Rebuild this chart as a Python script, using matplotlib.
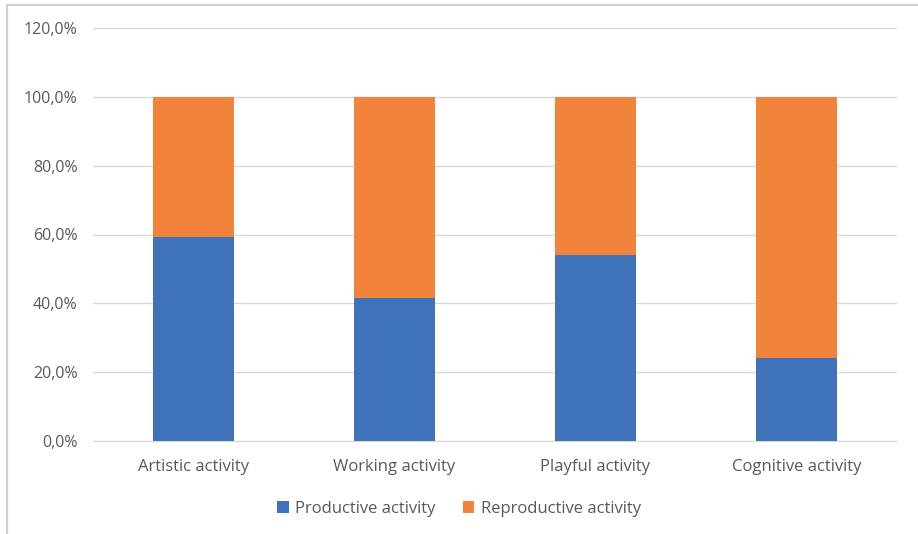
import matplotlib
matplotlib.use("Agg")
import matplotlib.pyplot as plt
from matplotlib.patches import Rectangle
from matplotlib.ticker import FuncFormatter
import numpy as np

categories = ["Artistic activity", "Working activity", "Playful activity", "Cognitive activity"]
productive = [59.3, 41.5, 53.9, 24.2]
reproductive = [100 - v for v in productive]
series_names = ["Productive activity", "Reproductive activity"]
yticks = [0, 20, 40, 60, 80, 100, 120]

plt.rcParams['font.family'] = ['Open Sans', 'DejaVu Sans']
txt = '#595959'

fig = plt.figure(figsize=(9.18, 5.34), dpi=100)
ax = fig.add_axes([93/918, 1-441/534, 804/918, 413/534])

x = np.arange(len(categories))
ax.bar(x, productive, width=0.4, color='#4072b9', label=series_names[0], zorder=3)
ax.bar(x, reproductive, width=0.4, bottom=productive, color='#f2833b', label=series_names[1], zorder=3)

ax.set_xlim(-0.5, len(categories) - 0.5)
ax.set_ylim(0, 120)
ax.set_yticks(yticks)
ax.yaxis.set_major_formatter(FuncFormatter(lambda v, p: f"{v:.1f}%".replace('.', ',')))
ax.set_xticks(x)
ax.set_xticklabels(categories)
ax.tick_params(axis='both', length=0, colors=txt)
ax.tick_params(axis='x', pad=13, labelsize=12)
ax.tick_params(axis='y', pad=11, labelsize=11.5)
ax.grid(axis='y', color='#d9d9d9', linewidth=1, zorder=0)
for s in ['top', 'right', 'left']:
    ax.spines[s].set_visible(False)
ax.spines['bottom'].set_color('#d9d9d9')

leg = fig.legend(loc='center', bbox_to_anchor=(0.5, 1-509/534), ncol=2, frameon=False,
                 fontsize=12, handlelength=0.7, handleheight=0.7, columnspacing=1.6,
                 handletextpad=0.4)
for t in leg.get_texts():
    t.set_color(txt)

fig.patches.append(Rectangle((7/918, -0.1), 1.5, 1-5/534+0.1, transform=fig.transFigure,
                             fill=False, edgecolor='#d0d0d0', linewidth=1.5))

fig.savefig("out.png", dpi=100)
